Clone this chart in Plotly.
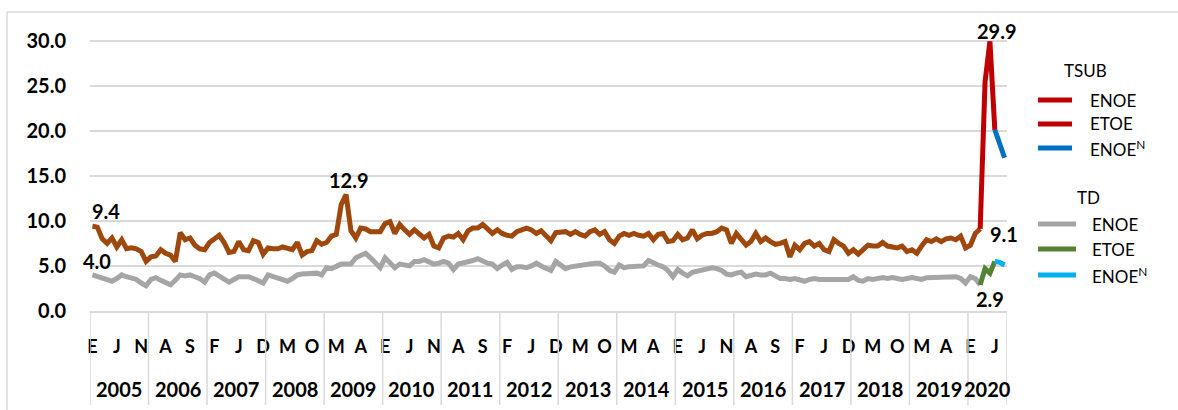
import plotly.graph_objects as go

# ---------------- data ----------------
month_letters = ["E", "F", "M", "A", "M", "J", "J", "A", "S", "O", "N", "D"]
years = list(range(2005, 2021))

# TSUB (tasa de subocupación), ENOE, Jan 2005 - Mar 2020
tsub_enoe = [
    9.4, 9.3, 8.0, 7.5, 8.1, 7.1, 7.9, 6.9, 7.0, 6.9, 6.6, 5.5,   # 2005
    6.0, 6.1, 6.8, 6.4, 6.2, 5.5, 8.7, 7.9, 8.1, 7.3, 6.9, 6.8,   # 2006
    7.6, 8.0, 8.4, 7.6, 6.5, 6.6, 7.7, 6.8, 6.7, 7.8, 7.6, 6.3,   # 2007
    7.0, 6.9, 6.9, 7.1, 6.9, 6.8, 7.6, 6.2, 6.6, 6.7, 7.8, 7.4,   # 2008
    7.6, 8.3, 8.5, 11.8, 12.9, 8.9, 8.1, 9.2, 9.1, 8.8, 8.8, 8.8, # 2009
    9.7, 9.9, 8.6, 9.6, 9.0, 8.5, 9.0, 8.6, 8.1, 8.5, 7.2, 7.0,   # 2010
    8.1, 8.3, 8.2, 8.6, 7.9, 8.9, 9.2, 9.2, 9.6, 9.1, 8.6, 9.0,   # 2011
    8.6, 8.4, 8.3, 8.8, 9.0, 9.2, 9.0, 8.6, 8.9, 8.3, 7.8, 8.7,   # 2012
    8.8, 8.8, 8.5, 8.8, 8.5, 8.3, 8.8, 9.0, 8.5, 8.8, 7.9, 7.5,   # 2013
    8.3, 8.6, 8.4, 8.6, 8.4, 8.3, 8.6, 7.9, 8.5, 8.6, 7.7, 7.8,   # 2014
    8.5, 7.9, 8.1, 9.0, 8.0, 8.4, 8.6, 8.6, 8.8, 9.2, 9.0, 7.5,   # 2015
    8.6, 7.9, 7.3, 7.7, 8.6, 7.7, 8.1, 7.7, 7.4, 7.5, 7.7, 6.0,   # 2016
    7.3, 6.8, 7.5, 7.7, 7.2, 7.5, 6.8, 6.6, 7.9, 7.5, 7.2, 6.4,   # 2017
    6.8, 6.3, 6.8, 7.3, 7.2, 7.2, 7.6, 7.2, 7.1, 7.0, 7.2, 6.6,   # 2018
    6.8, 6.4, 7.2, 7.9, 7.7, 8.0, 7.7, 8.0, 8.1, 7.9, 8.3, 7.0,   # 2019
    7.3, 8.6, 9.1,                                                # 2020
]
# TD (tasa de desocupación), ENOE, Jan 2005 - Mar 2020
td_enoe = [
    4.0, 3.8, 3.6, 3.4, 3.3, 3.6, 4.0, 3.8, 3.6, 3.5, 3.1, 2.8,   # 2005
    3.5, 3.7, 3.4, 3.2, 2.9, 3.4, 4.0, 3.9, 4.0, 3.8, 3.6, 3.2,   # 2006
    4.0, 4.2, 3.9, 3.6, 3.2, 3.5, 3.8, 3.8, 3.8, 3.6, 3.3, 3.1,   # 2007
    4.0, 3.8, 3.7, 3.5, 3.3, 3.6, 4.0, 4.1, 4.1, 4.1, 4.2, 4.0,   # 2008
    4.8, 4.7, 4.9, 5.2, 5.2, 5.2, 5.9, 6.1, 6.4, 5.9, 5.3, 4.8,   # 2009
    5.9, 5.4, 4.8, 5.2, 5.1, 5.0, 5.5, 5.5, 5.7, 5.5, 5.2, 5.3,   # 2010
    5.5, 5.3, 4.6, 5.2, 5.3, 5.4, 5.6, 5.8, 5.5, 5.3, 5.2, 4.7,   # 2011
    5.1, 5.4, 4.6, 4.9, 4.9, 4.8, 5.0, 5.3, 5.0, 4.8, 4.5, 5.5,   # 2012
    5.1, 4.7, 4.9, 5.0, 5.0, 5.1, 5.2, 5.3, 5.3, 5.0, 4.5, 4.3,   # 2013
    5.1, 4.8, 4.9, 4.9, 5.0, 5.0, 5.6, 5.3, 5.1, 4.9, 4.5, 3.8,   # 2014
    4.6, 4.2, 3.9, 4.3, 4.4, 4.5, 4.7, 4.8, 4.7, 4.5, 4.1, 4.0,   # 2015
    4.2, 4.3, 3.8, 4.0, 4.1, 4.0, 4.0, 4.2, 3.9, 3.6, 3.6, 3.5,   # 2016
    3.6, 3.5, 3.3, 3.5, 3.6, 3.5, 3.5, 3.6, 3.6, 3.6, 3.5, 3.5,   # 2017
    3.8, 3.4, 3.3, 3.6, 3.5, 3.6, 3.7, 3.6, 3.7, 3.6, 3.5, 3.6,   # 2018
    3.7, 3.6, 3.5, 3.7, 3.7, 3.7, 3.7, 3.8, 3.8, 3.8, 3.6, 3.1,   # 2019
    3.8, 3.6, 2.9,                                                # 2020
]
# 2020: ETOE (Mar-Jun, joined to last ENOE month) and ENOE^N (Jun-Aug)
tsub_etoe = [9.1, 25.4, 29.9, 20.1]
tsub_enoen = [20.1, 18.5, 17.0]
td_etoe = [2.9, 4.7, 4.2, 5.5]
td_enoen = [5.5, 5.4, 5.1]

# ---------------- positions (month index) ----------------
n_enoe = len(tsub_enoe)
x_enoe = list(range(n_enoe))
x_etoe = list(range(n_enoe - 1, n_enoe - 1 + len(tsub_etoe)))
x_enoen = list(range(x_etoe[-1], x_etoe[-1] + len(tsub_enoen)))
n_months = x_enoen[-1] + 1

# ---------------- styles ----------------
C_TSUB = "#9E480E"
C_RED = "#C00000"
C_BLUE = "#0070C0"
C_GREY = "#A5A5A5"
C_GREEN = "#548235"
C_LBLUE = "#00B0F0"
C_GRID = "#D9D9D9"
FONT = "Lato"
LW = 5

W, H = 1178, 410
ML, MR, MT, MB = 90, 171, 36, 99
PW = W - ML - MR
PH = H - MT - MB
Y0PX = H - MB


def px_x(px):
    return (px - ML) / PW


def px_y(py):
    return (Y0PX - py) / PH


fig = go.Figure()


def add_line(x, y, color):
    fig.add_trace(go.Scatter(x=x, y=y, mode="lines",
                             line=dict(color=color, width=LW),
                             showlegend=False, cliponaxis=False,
                             hoverinfo="x+y"))


add_line(x_enoe, td_enoe, C_GREY)
add_line(x_enoe, tsub_enoe, C_TSUB)
add_line(x_etoe, tsub_etoe, C_RED)
add_line(x_enoen, tsub_enoen, C_BLUE)
add_line(x_etoe, td_etoe, C_GREEN)
add_line(x_enoen, td_enoen, C_LBLUE)

annotations = []
shapes = []

# data labels
i_peak09 = tsub_enoe.index(max(tsub_enoe))
j_peak20 = tsub_etoe.index(max(tsub_etoe))
labels = [
    (x_enoe[0], tsub_enoe[0], 14, 15),
    (x_enoe[0], td_enoe[0], 5, 14),
    (x_enoe[i_peak09], tsub_enoe[i_peak09], 3, 15),
    (x_etoe[j_peak20], tsub_etoe[j_peak20], 7, 10),
    (x_enoe[-1], tsub_enoe[-1], 24, -5),
    (x_enoe[-1], td_enoe[-1], 10, -14),
]
for x, y, dx, dy in labels:
    annotations.append(dict(x=x, y=y, xref="x", yref="y", text=f"{y:.1f}",
                            showarrow=False, xshift=dx, yshift=dy,
                            xanchor="center", yanchor="middle",
                            font=dict(family=FONT, size=20, color="black", weight="bold")))

# year labels and separators
for k, yr in enumerate(years):
    start = 12 * k
    end = min(start + 11, n_months - 1)
    annotations.append(dict(x=(start + end) / 2, y=px_y(389), xref="x", yref="paper",
                            text=str(yr), showarrow=False, xanchor="center", yanchor="middle",
                            font=dict(family=FONT, size=20, color="black", weight="bold")))
    shapes.append(dict(type="line", xref="x", yref="paper", x0=start - 0.5, x1=start - 0.5,
                       y0=0, y1=px_y(405), line=dict(color=C_GRID, width=1.5)))
shapes.append(dict(type="line", xref="x", yref="paper", x0=n_months - 0.5, x1=n_months - 0.5,
                   y0=0, y1=px_y(405), line=dict(color=C_GRID, width=1.5)))

# chart border (top and left)
shapes.append(dict(type="line", xref="paper", yref="paper", x0=px_x(7), x1=px_x(1180),
                   y0=px_y(12), y1=px_y(12), line=dict(color=C_GRID, width=1.5)))
shapes.append(dict(type="line", xref="paper", yref="paper", x0=px_x(7), x1=px_x(7),
                   y0=px_y(12), y1=px_y(412), line=dict(color=C_GRID, width=1.5)))

# custom legend
legend_groups = [
    ("TSUB", (1085, 70), 1038, 1072, 1088,
     [("ENOE", C_RED, 100), ("ETOE", C_RED, 124), ("ENOE<sup>N</sup>", C_BLUE, 148)]),
    ("TD", (1088, 197), 1038, 1076, 1090,
     [("ENOE", C_GREY, 224), ("ETOE", C_GREEN, 249), ("ENOE<sup>N</sup>", C_LBLUE, 275)]),
]
for title, (tx, ty), lx0, lx1, txt_x, entries in legend_groups:
    annotations.append(dict(x=px_x(tx), y=px_y(ty), xref="paper", yref="paper", text=title,
                            showarrow=False, xanchor="center", yanchor="middle",
                            font=dict(family=FONT, size=17, color="black")))
    for name, color, yy in entries:
        shapes.append(dict(type="line", xref="paper", yref="paper", x0=px_x(lx0), x1=px_x(lx1),
                           y0=px_y(yy), y1=px_y(yy), line=dict(color=color, width=5)))
        annotations.append(dict(x=px_x(txt_x), y=px_y(yy), xref="paper", yref="paper",
                                text=name, showarrow=False, xanchor="left", yanchor="middle",
                                font=dict(family=FONT, size=17, color="black")))

tick_vals = list(range(0, n_months, 5))
tick_text = [month_letters[i % 12] for i in tick_vals]

fig.update_layout(
    width=W, height=H,
    margin=dict(l=ML, r=MR, t=MT, b=MB, pad=0),
    paper_bgcolor="white", plot_bgcolor="white",
    showlegend=False,
    xaxis=dict(range=[-0.5, n_months - 0.5], tickvals=tick_vals, ticktext=tick_text,
               showgrid=False, zeroline=False, showline=True, linecolor=C_GRID, linewidth=1.5,
               ticks="", ticklabelstandoff=19,
               tickfont=dict(family=FONT, size=18, color="black", weight="bold")),
    yaxis=dict(range=[0, 30.5], tickvals=[0, 5, 10, 15, 20, 25, 30], tickformat=".1f",
               showgrid=True, gridcolor=C_GRID, gridwidth=1.5, zeroline=False, showline=False,
               ticks="", ticklabelstandoff=23,
               tickfont=dict(family=FONT, size=20, color="black", weight="bold")),
    annotations=annotations,
    shapes=shapes,
)

fig.write_html("out.html",
               config={"displayModeBar": False},
               post_script="document.body.style.margin='0';document.body.style.padding='0';")
